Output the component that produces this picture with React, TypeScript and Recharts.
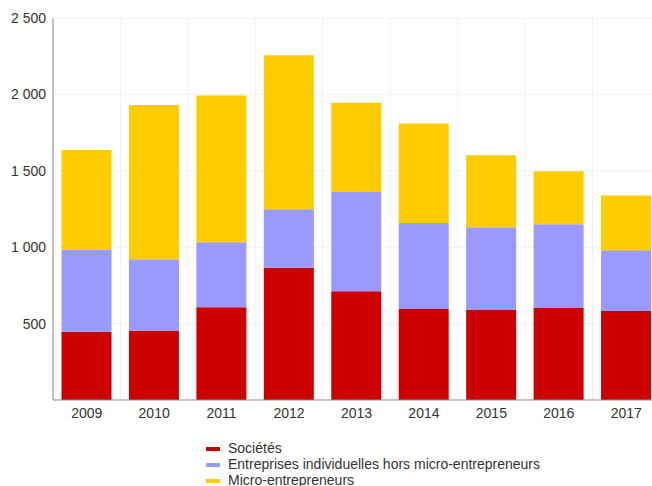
import React from "react";
import { BarChart, Bar, XAxis, YAxis, CartesianGrid, Legend } from "recharts";

const years = ["2009", "2010", "2011", "2012", "2013", "2014", "2015", "2016", "2017"];
const societes = [447, 454, 607, 866, 711, 596, 589, 602, 582];
const entreprisesIndividuelles = [537, 467, 425, 382, 650, 562, 541, 548, 398];
const microEntrepreneurs = [652, 1010, 960, 1008, 585, 651, 471, 347, 358];
const yTicks = [500, 1000, 1500, 2000, 2500];

const seriesNames = {
  societes: "Sociétés",
  ei: "Entreprises individuelles hors micro-entrepreneurs",
  micro: "Micro-entrepreneurs",
};

const colors = {
  societes: "#cc0000",
  ei: "#9999ff",
  micro: "#ffcc00",
};

const data = years.map((y, i) => ({
  year: y,
  societes: societes[i],
  ei: entreprisesIndividuelles[i],
  micro: microEntrepreneurs[i],
}));

const FONT = "'Liberation Sans', Arial, Helvetica, sans-serif";

const fmt = (v: number) => {
  const s = String(v);
  return s.length > 3 ? s.slice(0, s.length - 3) + "\u00a0" + s.slice(s.length - 3) : s;
};

const LegendContent = () => {
  const items: Array<keyof typeof colors> = ["societes", "ei", "micro"];
  return (
    <div style={{ fontFamily: FONT, fontSize: 14, lineHeight: "16px", color: "#333" }}>
      {items.map((k) => (
        <div key={k} style={{ display: "flex", alignItems: "center", height: 16 }}>
          <span
            style={{
              display: "inline-block",
              width: 14,
              height: 4,
              background: colors[k],
              marginRight: 8,
              marginTop: 1,
            }}
          />
          <span>{seriesNames[k]}</span>
        </div>
      ))}
    </div>
  );
};

export default function App() {
  return (
    <div style={{ position: "absolute", left: 0, top: 0, width: 652, height: 486, overflow: "hidden", background: "#fff" }}>
      <BarChart
        width={660}
        height={486}
        data={data}
        margin={{ top: 18, right: 0, left: 0, bottom: 0 }}
        barCategoryGap="12.6%"
      >
        <CartesianGrid
          stroke="#edf1f5"
          strokeWidth={1}
          horizontalValues={yTicks}
          verticalCoordinatesGenerator={({ offset }: any) =>
            Array.from({ length: years.length + 1 }, (_, i) => offset.left + (i * offset.width) / years.length)
          }
        />
        <XAxis
          dataKey="year"
          height={86}
          tickLine={false}
          axisLine={{ stroke: "#8c8c8c" }}
          tick={{ fill: "#333", fontSize: 14, fontFamily: FONT }}
          interval={0}
        />
        <YAxis
          width={53}
          domain={[0, 2500]}
          ticks={yTicks}
          tickFormatter={fmt}
          tickLine={false}
          axisLine={{ stroke: "#8c8c8c" }}
          tick={{ fill: "#333", fontSize: 14, fontFamily: FONT }}
          tickMargin={1}
        />
        <Legend
          layout="horizontal"
          verticalAlign="middle"
          align="center"
          content={<LegendContent />}
          wrapperStyle={{ position: "absolute", left: 206, top: 440, width: 400, height: 48 }}
        />
        <Bar dataKey="societes" name={seriesNames.societes} stackId="a" fill={colors.societes} isAnimationActive={false} />
        <Bar dataKey="ei" name={seriesNames.ei} stackId="a" fill={colors.ei} isAnimationActive={false} />
        <Bar dataKey="micro" name={seriesNames.micro} stackId="a" fill={colors.micro} isAnimationActive={false} />
      </BarChart>
    </div>
  );
}
